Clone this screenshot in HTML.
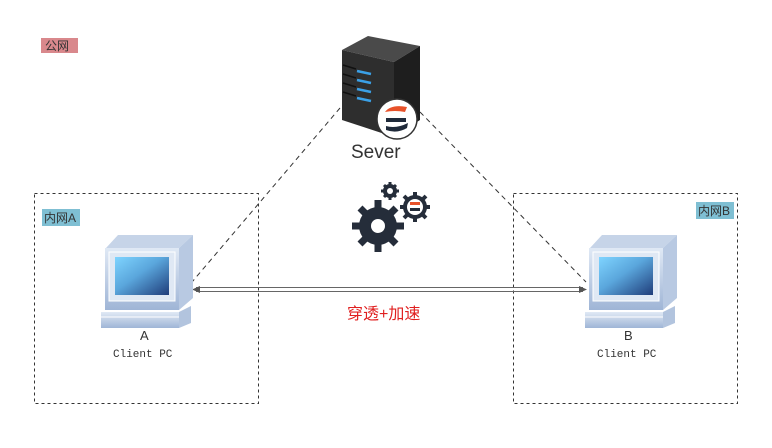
<!DOCTYPE html>
<html><head><meta charset="utf-8"><style>
body{margin:0;background:#fff;}
svg text{font-family:"Liberation Sans","Noto Sans CJK SC",sans-serif;}
</style></head><body>
<svg width="772" height="443" xmlns="http://www.w3.org/2000/svg">
<defs>
<linearGradient id="scr" x1="0" y1="0" x2="1" y2="1"><stop offset="0" stop-color="#7fd4ff"/><stop offset="0.45" stop-color="#5aa6dc"/><stop offset="1" stop-color="#1f3d7a"/></linearGradient>
<linearGradient id="body" x1="0" y1="0" x2="0" y2="1"><stop offset="0" stop-color="#e0e9f5"/><stop offset="1" stop-color="#9fb5d6"/></linearGradient>
<g id="pc">
<polygon points="5,13 17,0 92,0 78,13" fill="#c6d4e8"/>
<polygon points="78,13 92,0 92,63 78,75" fill="#b8c9e2"/>
<rect x="4" y="13" width="74" height="62" fill="url(#body)"/>
<rect x="8" y="17" width="66" height="49" fill="#dfe8f4" stroke="#fff" stroke-width="1"/>
<rect x="14" y="22" width="54" height="38" fill="url(#scr)"/>
<polygon points="78,77 90,71 90,88 78,93" fill="#b2c4de"/>
<rect x="0" y="77" width="78" height="16" fill="url(#body)"/>
<line x1="0" y1="82" x2="78" y2="82" stroke="#fff"/>
</g>
</defs>
<rect x="41" y="38" width="37" height="15" fill="#d9888c"/>
<text x="45" y="50" font-size="12" fill="#333">公网</text>
<rect x="34.5" y="193.5" width="224" height="210" fill="none" stroke="#333" stroke-dasharray="3,3"/>
<rect x="513.5" y="193.5" width="224" height="210" fill="none" stroke="#333" stroke-dasharray="3,3"/>
<rect x="42" y="209" width="38" height="17" fill="#7fbfd3"/>
<text x="44" y="222" font-size="12" fill="#333">内网A</text>
<rect x="696" y="202" width="38" height="17" fill="#7fbfd3"/>
<text x="698" y="215" font-size="12" fill="#333">内网B</text>
<line x1="340" y1="108" x2="192" y2="282" stroke="#333" stroke-dasharray="5,4"/>
<line x1="420" y1="112" x2="586" y2="282" stroke="#333" stroke-dasharray="5,4"/>
<line x1="196" y1="287.5" x2="583" y2="287.5" stroke="#666" stroke-width="1"/>
<line x1="196" y1="291.5" x2="583" y2="291.5" stroke="#666" stroke-width="1"/>
<polygon points="192,289.5 200,286 200,293" fill="#555"/>
<polygon points="587,289.5 579,286 579,293" fill="#555"/>
<use href="#pc" x="101" y="235"/>
<use href="#pc" x="585" y="235"/>
<text x="140" y="340" font-size="13" fill="#333">A</text>
<text x="113" y="357" font-size="11" fill="#333" style="font-family:'Liberation Mono',monospace">Client PC</text>
<text x="624" y="340" font-size="13" fill="#333">B</text>
<text x="597" y="357" font-size="11" fill="#333" style="font-family:'Liberation Mono',monospace">Client PC</text>
<text x="347" y="319" font-size="16" fill="#e02020">穿透+加速</text>
<polygon points="342,50 368,36 420,46 394,62" fill="#4a4a4a"/>
<polygon points="394,62 420,46 420,120 394,137" fill="#1e1e1e"/>
<polygon points="342,50 394,62 394,137 342,120" fill="#2e2e2e"/>
<g stroke="#3ba0e6" stroke-width="2.5">
<line x1="357" y1="71" x2="371" y2="74"/><line x1="357" y1="80" x2="371" y2="83"/><line x1="357" y1="89" x2="371" y2="92"/><line x1="357" y1="98" x2="371" y2="101"/></g>
<g stroke="#111" stroke-width="1.5">
<line x1="343" y1="65" x2="356" y2="69"/><line x1="343" y1="74" x2="356" y2="78"/><line x1="343" y1="83" x2="356" y2="87"/><line x1="343" y1="92" x2="356" y2="96"/></g>
<circle cx="397" cy="119" r="20" fill="#fff" stroke="#333" stroke-width="1.5"/>
<path d="M385,112 q6,-8 22,-5 l-2,5 q-10,-2 -20,0z" fill="#e8522a"/>
<path d="M386,118 h20 v4 h-20z" fill="#1f2a3a"/>
<path d="M386,126 q10,3 22,-3 l-1,5 q-10,6 -21,2z" fill="#1f2a3a"/>
<text x="351" y="158" font-size="19" fill="#333">Sever</text>
<g fill="#252d3a">
<circle cx="378" cy="226" r="19"/>
<g stroke="#252d3a" stroke-width="7">
<line x1="378" y1="200" x2="378" y2="252"/><line x1="352" y1="226" x2="404" y2="226"/>
<line x1="360" y1="208" x2="396" y2="244"/><line x1="396" y1="208" x2="360" y2="244"/></g>
<circle cx="378" cy="226" r="7" fill="#fff"/>
<circle cx="390" cy="191" r="7"/>
<g stroke="#252d3a" stroke-width="3"><line x1="390" y1="182" x2="390" y2="200"/><line x1="381" y1="191" x2="399" y2="191"/><line x1="384" y1="185" x2="396" y2="197"/><line x1="396" y1="185" x2="384" y2="197"/></g>
<circle cx="390" cy="191" r="3" fill="#fff"/>
<circle cx="415" cy="207" r="12"/>
<g stroke="#252d3a" stroke-width="4"><line x1="415" y1="192" x2="415" y2="222"/><line x1="400" y1="207" x2="430" y2="207"/><line x1="404" y1="196" x2="426" y2="218"/><line x1="426" y1="196" x2="404" y2="218"/></g>
<circle cx="415" cy="207" r="8" fill="#fff"/>
<rect x="410" y="202" width="10" height="3" fill="#e8522a"/>
<rect x="410" y="208" width="10" height="3" fill="#252d3a"/>
</g>
</svg>
</body></html>
